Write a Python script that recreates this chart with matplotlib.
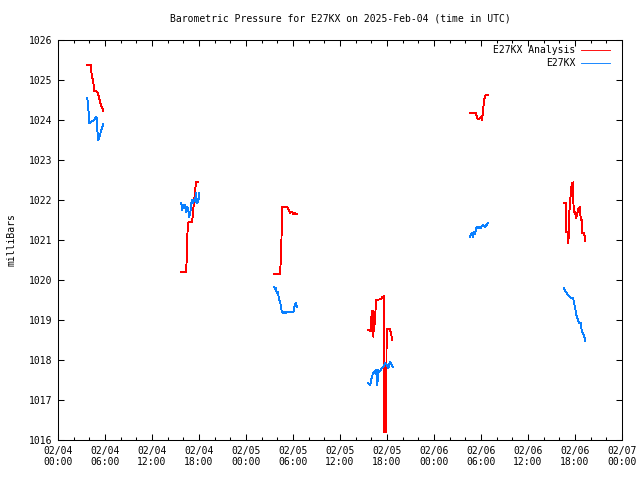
import numpy as np
import matplotlib
matplotlib.use("Agg")
import matplotlib.pyplot as plt
from matplotlib.ticker import MultipleLocator

# hours since 2025-02-04 00:00 UTC, pressure in millibars
analysis_segments = [
    ([3.74, 4.17, 4.30, 4.51, 4.60, 5.02, 5.14, 5.36, 5.58, 5.78],
     [1025.37, 1025.37, 1025.13, 1024.96, 1024.72, 1024.71, 1024.63, 1024.46, 1024.33, 1024.23]),
    ([15.74, 16.34, 16.43, 16.51, 16.63, 17.07, 17.14, 17.62, 17.91],
     [1020.21, 1020.21, 1020.50, 1021.13, 1021.44, 1021.44, 1021.50, 1022.46, 1022.46]),
    ([27.57, 28.34, 28.47, 28.63, 29.20, 29.49, 29.62, 29.83, 30.04, 30.26, 30.47],
     [1020.14, 1020.14, 1020.58, 1021.83, 1021.83, 1021.75, 1021.67, 1021.71, 1021.65, 1021.67, 1021.65]),
    ([39.61, 39.92, 40.05, 40.25, 40.26, 40.34, 40.45, 40.60, 41.20, 41.45, 41.62, 41.63, 41.87, 41.96, 42.38, 42.60, 42.67],
     [1018.75, 1018.73, 1019.23, 1019.23, 1018.58, 1019.00, 1018.90, 1019.50, 1019.52, 1019.58, 1019.60, 1016.21, 1016.21, 1018.77, 1018.77, 1018.58, 1018.50]),
    ([52.60, 53.36, 53.53, 53.78, 53.96, 54.13, 54.38, 54.51, 54.93],
     [1024.17, 1024.17, 1024.04, 1024.02, 1024.07, 1024.00, 1024.46, 1024.61, 1024.63]),
    ([64.60, 64.85, 64.86, 65.15, 65.16, 65.27, 65.45, 65.58, 65.78, 65.80, 65.87, 66.00, 66.13, 66.29, 66.42, 66.64, 66.73, 66.89, 66.93, 67.15, 67.24, 67.32],
     [1021.92, 1021.92, 1021.21, 1021.21, 1020.92, 1021.67, 1022.13, 1022.42, 1022.44, 1021.92, 1021.71, 1021.71, 1021.54, 1021.67, 1021.77, 1021.82, 1021.50, 1021.50, 1021.17, 1021.17, 1021.08, 1020.98]),
]

station_segments = [
    ([3.74, 3.87, 4.00, 4.30, 4.60, 4.85, 4.94, 5.02, 5.14, 5.36, 5.58, 5.78],
     [1024.56, 1024.29, 1023.92, 1023.96, 1024.00, 1024.08, 1024.04, 1023.75, 1023.50, 1023.63, 1023.79, 1023.89]),
    ([15.74, 15.87, 16.00, 16.09, 16.21, 16.34, 16.51, 16.63, 16.76, 16.94, 17.07, 17.19, 17.36, 17.49, 17.62, 17.71, 17.78, 17.91, 18.04],
     [1021.92, 1021.75, 1021.88, 1021.79, 1021.88, 1021.71, 1021.83, 1021.75, 1021.58, 1021.75, 1022.00, 1021.93, 1022.00, 1021.96, 1022.17, 1022.00, 1021.92, 1021.96, 1022.17]),
    ([27.57, 27.70, 27.83, 27.92, 28.05, 28.21, 28.43, 28.56, 28.76, 28.89, 29.07, 29.20, 29.40, 29.83, 30.04, 30.17, 30.34, 30.51],
     [1019.83, 1019.78, 1019.81, 1019.67, 1019.71, 1019.54, 1019.38, 1019.21, 1019.17, 1019.21, 1019.17, 1019.19, 1019.19, 1019.21, 1019.19, 1019.33, 1019.42, 1019.33]),
    ([39.61, 39.83, 39.96, 40.05, 40.25, 40.47, 40.60, 40.69, 40.76, 40.89, 41.01, 41.19, 41.32, 41.53, 41.74, 41.96, 42.17, 42.38, 42.60, 42.73],
     [1017.43, 1017.37, 1017.46, 1017.58, 1017.67, 1017.71, 1017.75, 1017.54, 1017.37, 1017.75, 1017.71, 1017.75, 1017.79, 1017.82, 1017.92, 1017.88, 1017.79, 1017.96, 1017.88, 1017.83]),
    ([52.60, 52.81, 52.94, 53.11, 53.23, 53.45, 53.66, 53.78, 53.96, 54.21, 54.51, 54.72, 54.93],
     [1021.08, 1021.17, 1021.08, 1021.21, 1021.15, 1021.33, 1021.29, 1021.33, 1021.29, 1021.38, 1021.33, 1021.38, 1021.43]),
    ([64.60, 64.73, 64.94, 65.15, 65.36, 65.58, 65.78, 65.87, 66.00, 66.13, 66.29, 66.55, 66.73, 66.85, 66.98, 67.15, 67.32],
     [1019.79, 1019.73, 1019.67, 1019.61, 1019.57, 1019.54, 1019.54, 1019.42, 1019.33, 1019.17, 1019.04, 1018.92, 1018.93, 1018.75, 1018.68, 1018.61, 1018.48]),
]

x_tick_hours = [0, 6, 12, 18, 24, 30, 36, 42, 48, 54, 60, 66, 72]
x_tick_labels = ["02/04\n00:00", "02/04\n06:00", "02/04\n12:00", "02/04\n18:00",
                 "02/05\n00:00", "02/05\n06:00", "02/05\n12:00", "02/05\n18:00",
                 "02/06\n00:00", "02/06\n06:00", "02/06\n12:00", "02/06\n18:00",
                 "02/07\n00:00"]
y_ticks = [1016, 1017, 1018, 1019, 1020, 1021, 1022, 1023, 1024, 1025, 1026]

title = "Barometric Pressure for E27KX on 2025-Feb-04 (time in UTC)"
ylabel = "milliBars"
series_names = ["E27KX Analysis", "E27KX"]
series_colors = ["#ff0000", "#0a80ff"]

plt.rcParams['font.family'] = ['DejaVu Sans Mono']
fig = plt.figure(figsize=(6.4, 4.8), dpi=100)
ax = fig.add_axes([58/640, 40/480, 564/640, 400/480])


def joined(segments):
    xs, ys = [], []
    for sx, sy in segments:
        xs.extend(sx + [np.nan])
        ys.extend(sy + [np.nan])
    return xs, ys

for segs, name, col in zip([analysis_segments, station_segments], series_names, series_colors):
    xs, ys = joined(segs)
    ax.plot(xs, ys, color=col, lw=0.65, label=name, antialiased=False)

ax.set_xlim(0, 72)
ax.set_ylim(1016, 1026)
ax.set_xticks(x_tick_hours)
ax.set_xticklabels(x_tick_labels, fontsize=7)
ax.xaxis.set_minor_locator(MultipleLocator(2))
ax.set_yticks(y_ticks)
ax.set_yticklabels([str(v) for v in y_ticks], fontsize=7)
ax.tick_params(which='major', direction='in', length=4.5, width=0.75, top=True, right=True, pad=4)
ax.tick_params(which='minor', direction='in', length=2.3, width=0.75, top=True, right=True)
for s in ax.spines.values():
    s.set_linewidth(0.75)
ax.set_title(title, fontsize=7, pad=13.5)
ax.set_ylabel(ylabel, fontsize=7, labelpad=9)
leg = ax.legend(loc='upper right', bbox_to_anchor=(0.9858, 0.997), markerfirst=False,
                frameon=False, fontsize=7, handlelength=3.0, handletextpad=0.6,
                labelspacing=0.35, borderaxespad=0.0)
for t in leg.get_texts():
    t.set_ha('right')

fig.savefig("out.png", dpi=100)
